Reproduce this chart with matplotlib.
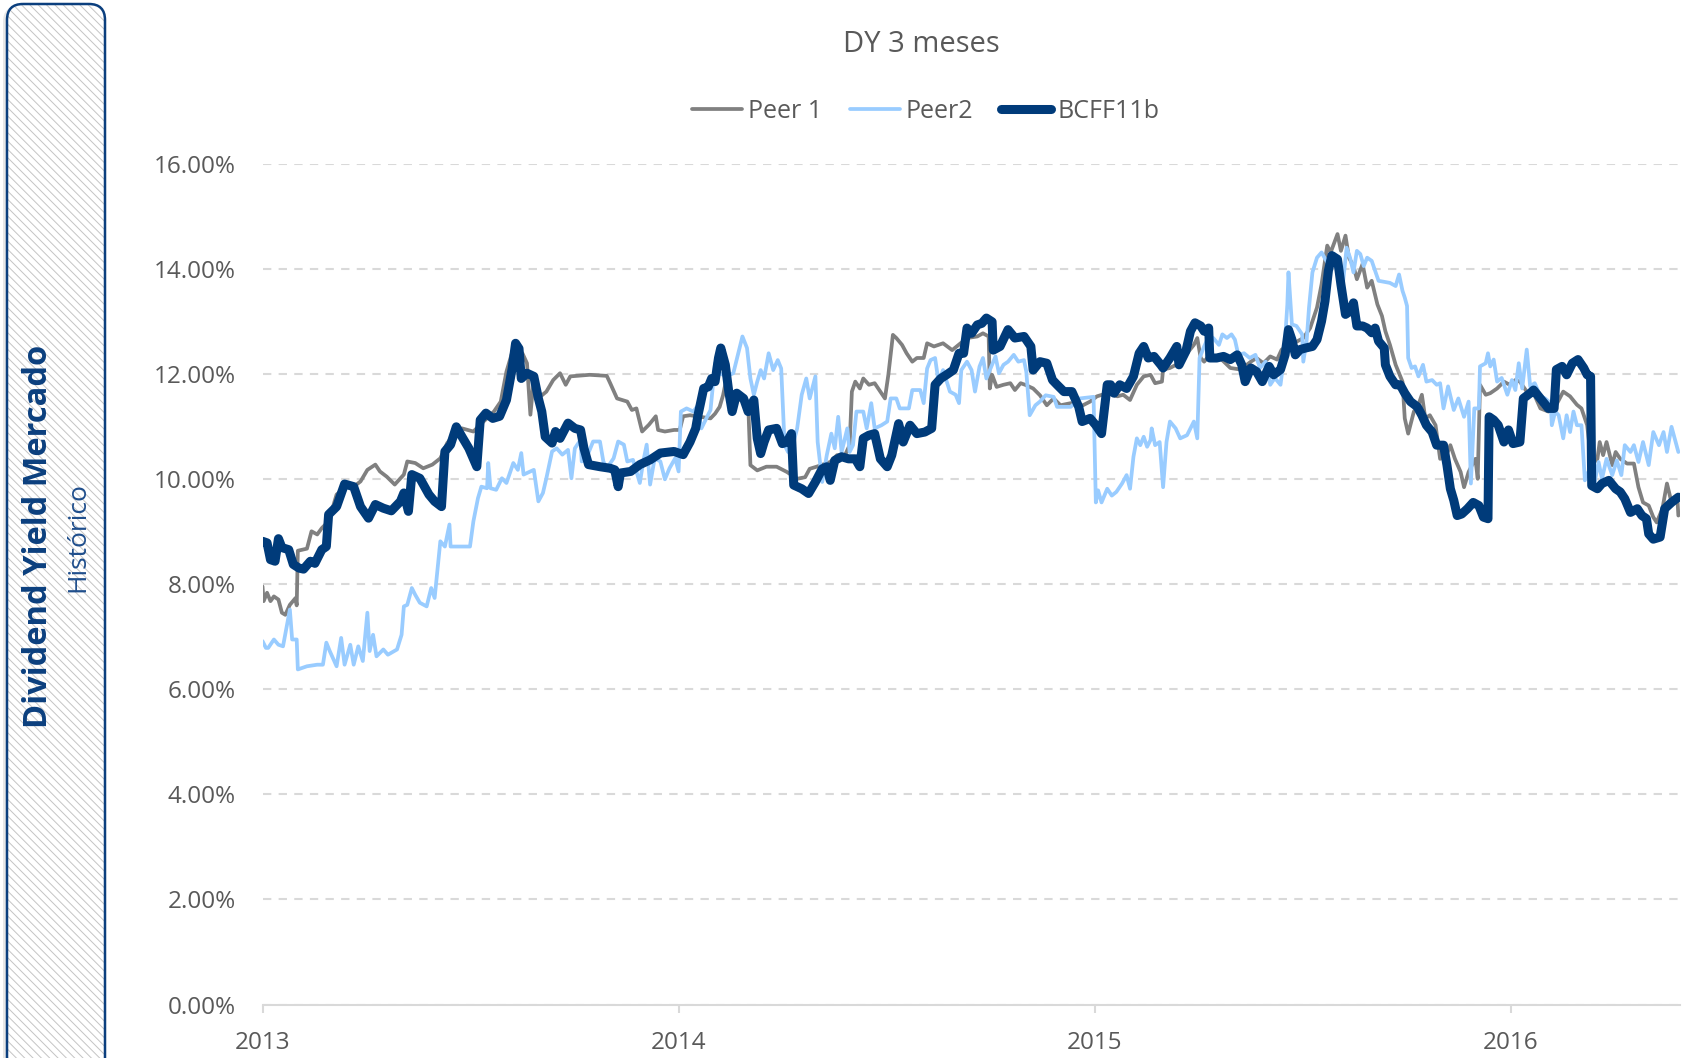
import matplotlib
matplotlib.use("Agg")
import matplotlib.pyplot as plt
from matplotlib.patches import FancyBboxPatch
from matplotlib.ticker import FuncFormatter, FixedLocator
import pandas as pd

# ---------------- data (values in %) ----------------
title = "DY 3 meses"
series_names = ["Peer 1", "Peer2", "BCFF11b"]
year_ticks = ["2013-01-01", "2014-01-01", "2015-01-01", "2016-01-01"]
year_labels = ["2013", "2014", "2015", "2016"]
y_ticks = [0, 2, 4, 6, 8, 10, 12, 14, 16]

peer1 = [
    ("2013-01-01", 7.96), ("2013-01-02", 7.68), ("2013-01-05", 7.84), ("2013-01-08", 7.68),
    ("2013-01-11", 7.77), ("2013-01-15", 7.71), ("2013-01-18", 7.46), ("2013-01-21", 7.42),
    ("2013-01-25", 7.61), ("2013-01-30", 7.74), ("2013-01-31", 7.60), ("2013-02-01", 8.64),
    ("2013-02-09", 8.68), ("2013-02-13", 9.01), ("2013-02-18", 8.95), ("2013-02-22", 9.07),
    ("2013-02-28", 9.20), ("2013-03-07", 9.71), ("2013-03-16", 9.86), ("2013-03-22", 9.86),
    ("2013-03-28", 9.96), ("2013-04-03", 10.18), ("2013-04-10", 10.28), ("2013-04-14", 10.15),
    ("2013-04-20", 10.05), ("2013-04-27", 9.90), ("2013-05-05", 10.09), ("2013-05-08", 10.34),
    ("2013-05-15", 10.31), ("2013-05-22", 10.21), ("2013-05-30", 10.28), ("2013-06-06", 10.40),
    ("2013-06-12", 10.69), ("2013-06-18", 10.85), ("2013-06-25", 10.97), ("2013-07-05", 10.91),
    ("2013-07-11", 11.04), ("2013-07-23", 11.29), ("2013-07-29", 11.48), ("2013-08-03", 12.05),
    ("2013-08-09", 12.49), ("2013-08-17", 12.40), ("2013-08-21", 12.21), ("2013-08-24", 11.23),
    ("2013-08-27", 11.92), ("2013-09-02", 11.58), ("2013-09-07", 11.67), ("2013-09-13", 11.89),
    ("2013-09-19", 12.02), ("2013-09-24", 11.80), ("2013-09-28", 11.96), ("2013-10-15", 11.99),
    ("2013-10-30", 11.97), ("2013-11-02", 11.83), ("2013-11-08", 11.54), ("2013-11-17", 11.48),
    ("2013-11-21", 11.32), ("2013-11-25", 11.35), ("2013-11-30", 10.91), ("2013-12-06", 11.04),
    ("2013-12-12", 11.20), ("2013-12-14", 10.94), ("2013-12-20", 10.91), ("2013-12-28", 10.94),
    ("2014-01-02", 10.94), ("2014-01-05", 11.20), ("2014-01-11", 11.22), ("2014-01-20", 11.19),
    ("2014-01-29", 11.16), ("2014-02-02", 11.25), ("2014-02-06", 11.38), ("2014-02-09", 11.60),
    ("2014-02-12", 11.92), ("2014-02-17", 11.41), ("2014-02-21", 11.54), ("2014-02-27", 11.48),
    ("2014-03-03", 11.48), ("2014-03-05", 10.27), ("2014-03-11", 10.17), ("2014-03-19", 10.24),
    ("2014-03-28", 10.24), ("2014-04-06", 10.14), ("2014-04-15", 10.01), ("2014-04-22", 10.04),
    ("2014-04-26", 10.20), ("2014-05-02", 10.24), ("2014-05-14", 10.33), ("2014-05-20", 10.46),
    ("2014-05-27", 10.46), ("2014-05-31", 10.65), ("2014-06-02", 11.67), ("2014-06-05", 11.86),
    ("2014-06-09", 11.73), ("2014-06-12", 11.92), ("2014-06-17", 11.80), ("2014-06-22", 11.83),
    ("2014-06-27", 11.67), ("2014-07-01", 11.54), ("2014-07-04", 11.99), ("2014-07-08", 12.75),
    ("2014-07-11", 12.69), ("2014-07-16", 12.56), ("2014-07-20", 12.40), ("2014-07-25", 12.24),
    ("2014-07-29", 12.31), ("2014-08-04", 12.31), ("2014-08-07", 12.59), ("2014-08-13", 12.53),
    ("2014-08-21", 12.59), ("2014-08-29", 12.46), ("2014-09-02", 12.53), ("2014-09-11", 12.69),
    ("2014-09-20", 12.72), ("2014-09-25", 12.78), ("2014-09-30", 12.72), ("2014-10-01", 11.73),
    ("2014-10-03", 11.99), ("2014-10-07", 11.76), ("2014-10-13", 11.80), ("2014-10-19", 11.83),
    ("2014-10-23", 11.70), ("2014-10-28", 11.83), ("2014-11-01", 11.80), ("2014-11-08", 11.73),
    ("2014-11-14", 11.60), ("2014-11-20", 11.41), ("2014-11-26", 11.54), ("2014-12-02", 11.41),
    ("2014-12-11", 11.45), ("2014-12-19", 11.38), ("2014-12-28", 11.48), ("2015-01-03", 11.58),
    ("2015-01-12", 11.64), ("2015-01-21", 11.58), ("2015-01-26", 11.61), ("2015-02-01", 11.51),
    ("2015-02-07", 11.80), ("2015-02-13", 11.96), ("2015-02-19", 11.99), ("2015-02-23", 11.83),
    ("2015-03-01", 11.86), ("2015-03-02", 12.09), ("2015-03-08", 12.12), ("2015-03-16", 12.21),
    ("2015-03-23", 12.40), ("2015-03-29", 12.56), ("2015-04-01", 12.69), ("2015-04-04", 12.31),
    ("2015-04-07", 12.24), ("2015-04-12", 12.37), ("2015-04-21", 12.31), ("2015-04-30", 12.12),
    ("2015-05-09", 12.09), ("2015-05-18", 12.24), ("2015-05-23", 12.31), ("2015-05-29", 12.21),
    ("2015-06-04", 12.34), ("2015-06-10", 12.28), ("2015-06-14", 12.47), ("2015-06-22", 12.56),
    ("2015-06-28", 12.63), ("2015-07-03", 12.69), ("2015-07-09", 12.88), ("2015-07-15", 13.27),
    ("2015-07-19", 13.71), ("2015-07-24", 14.45), ("2015-07-27", 14.32), ("2015-08-02", 14.67),
    ("2015-08-05", 14.35), ("2015-08-09", 14.64), ("2015-08-12", 14.22), ("2015-08-16", 14.06),
    ("2015-08-19", 13.81), ("2015-08-24", 14.10), ("2015-08-28", 13.65), ("2015-09-01", 13.78),
    ("2015-09-06", 13.33), ("2015-09-10", 13.11), ("2015-09-13", 12.82), ("2015-09-17", 12.56),
    ("2015-09-22", 12.18), ("2015-09-28", 11.86), ("2015-09-30", 11.16), ("2015-10-03", 10.87),
    ("2015-10-08", 11.29), ("2015-10-12", 11.42), ("2015-10-15", 11.61), ("2015-10-18", 11.16),
    ("2015-10-22", 11.22), ("2015-10-27", 11.03), ("2015-10-31", 10.39), ("2015-11-05", 10.43),
    ("2015-11-09", 10.65), ("2015-11-13", 10.39), ("2015-11-18", 10.14), ("2015-11-21", 9.85),
    ("2015-11-25", 10.14), ("2015-11-28", 10.27), ("2015-12-01", 10.39), ("2015-12-03", 10.01),
    ("2015-12-05", 11.80), ("2015-12-10", 11.61), ("2015-12-14", 11.64), ("2015-12-20", 11.73),
    ("2015-12-26", 11.86), ("2015-12-31", 11.80), ("2016-01-05", 11.89), ("2016-01-09", 11.86),
    ("2016-01-15", 11.67), ("2016-01-21", 11.64), ("2016-01-27", 11.35), ("2016-02-03", 11.29),
    ("2016-02-10", 11.42), ("2016-02-16", 11.67), ("2016-02-22", 11.58), ("2016-02-28", 11.42),
    ("2016-03-03", 11.35), ("2016-03-08", 11.03), ("2016-03-12", 10.27), ("2016-03-17", 10.39),
    ("2016-03-19", 10.71), ("2016-03-22", 10.46), ("2016-03-25", 10.71), ("2016-03-30", 10.27),
    ("2016-04-02", 10.52), ("2016-04-06", 10.39), ("2016-04-12", 10.30), ("2016-04-18", 10.30),
    ("2016-04-22", 9.85), ("2016-04-26", 9.56), ("2016-05-01", 9.50), ("2016-05-05", 9.28),
    ("2016-05-08", 9.18), ("2016-05-13", 9.44), ("2016-05-17", 9.92), ("2016-05-21", 9.56),
    ("2016-05-26", 9.69), ("2016-05-27", 9.31),
]

peer2 = [
    ("2013-01-01", 6.92), ("2013-01-04", 6.79), ("2013-01-06", 6.79), ("2013-01-11", 6.95),
    ("2013-01-15", 6.85), ("2013-01-19", 6.82), ("2013-01-22", 7.17), ("2013-01-25", 7.52),
    ("2013-01-27", 6.95), ("2013-01-31", 6.95), ("2013-02-01", 6.38), ("2013-02-09", 6.44),
    ("2013-02-18", 6.47), ("2013-02-23", 6.47), ("2013-02-26", 6.89), ("2013-03-01", 6.73),
    ("2013-03-07", 6.44), ("2013-03-11", 6.98), ("2013-03-14", 6.47), ("2013-03-19", 6.85),
    ("2013-03-22", 6.47), ("2013-03-26", 6.82), ("2013-03-30", 6.54), ("2013-04-03", 7.46),
    ("2013-04-05", 6.73), ("2013-04-08", 7.04), ("2013-04-11", 6.63), ("2013-04-17", 6.76),
    ("2013-04-21", 6.66), ("2013-04-29", 6.76), ("2013-05-03", 7.04), ("2013-05-05", 7.58),
    ("2013-05-08", 7.61), ("2013-05-12", 7.93), ("2013-05-15", 7.80), ("2013-05-19", 7.65),
    ("2013-05-25", 7.58), ("2013-05-29", 7.93), ("2013-06-01", 7.74), ("2013-06-06", 8.82),
    ("2013-06-10", 8.72), ("2013-06-14", 9.14), ("2013-06-15", 8.72), ("2013-07-02", 8.72),
    ("2013-07-05", 9.20), ("2013-07-09", 9.64), ("2013-07-12", 9.86), ("2013-07-17", 9.83),
    ("2013-07-18", 10.31), ("2013-07-20", 9.83), ("2013-07-25", 9.80), ("2013-07-30", 10.02),
    ("2013-08-03", 9.93), ("2013-08-09", 10.31), ("2013-08-13", 10.18), ("2013-08-16", 10.50),
    ("2013-08-18", 10.09), ("2013-08-27", 10.18), ("2013-08-31", 9.58), ("2013-09-04", 9.74),
    ("2013-09-07", 10.02), ("2013-09-12", 10.53), ("2013-09-16", 10.59), ("2013-09-21", 10.47),
    ("2013-09-26", 10.56), ("2013-09-29", 10.02), ("2013-10-02", 10.59), ("2013-10-07", 10.75),
    ("2013-10-08", 10.34), ("2013-10-12", 10.40), ("2013-10-18", 10.72), ("2013-10-24", 10.72),
    ("2013-10-27", 10.34), ("2013-10-30", 10.21), ("2013-11-05", 10.40), ("2013-11-09", 10.72),
    ("2013-11-14", 10.66), ("2013-11-17", 10.34), ("2013-11-22", 10.37), ("2013-11-28", 9.93),
    ("2013-12-01", 10.34), ("2013-12-04", 10.66), ("2013-12-07", 9.90), ("2013-12-11", 10.40),
    ("2013-12-16", 10.34), ("2013-12-20", 10.00), ("2013-12-24", 10.21), ("2013-12-29", 10.40),
    ("2014-01-01", 10.15), ("2014-01-03", 11.29), ("2014-01-08", 11.35), ("2014-01-14", 11.29),
    ("2014-01-17", 11.38), ("2014-01-21", 10.97), ("2014-01-29", 11.32), ("2014-02-02", 12.21),
    ("2014-02-06", 12.02), ("2014-02-12", 11.96), ("2014-02-18", 12.02), ("2014-02-22", 12.37),
    ("2014-02-26", 12.72), ("2014-03-02", 12.50), ("2014-03-05", 11.92), ("2014-03-08", 11.61),
    ("2014-03-11", 11.86), ("2014-03-14", 12.08), ("2014-03-17", 11.92), ("2014-03-21", 12.40),
    ("2014-03-25", 12.08), ("2014-03-29", 12.27), ("2014-04-01", 12.11), ("2014-04-04", 10.65),
    ("2014-04-07", 10.52), ("2014-04-10", 10.55), ("2014-04-15", 10.97), ("2014-04-19", 11.61),
    ("2014-04-23", 11.92), ("2014-04-26", 11.54), ("2014-05-01", 11.96), ("2014-05-03", 10.71),
    ("2014-05-07", 9.95), ("2014-05-11", 10.46), ("2014-05-15", 10.87), ("2014-05-18", 10.59),
    ("2014-05-21", 11.19), ("2014-05-24", 10.52), ("2014-05-29", 10.97), ("2014-05-31", 10.52),
    ("2014-06-03", 10.65), ("2014-06-06", 11.29), ("2014-06-12", 11.29), ("2014-06-15", 10.97),
    ("2014-06-19", 11.45), ("2014-06-22", 10.97), ("2014-06-28", 11.03), ("2014-07-03", 11.10),
    ("2014-07-06", 11.54), ("2014-07-11", 11.54), ("2014-07-14", 11.35), ("2014-07-22", 11.35),
    ("2014-07-25", 11.70), ("2014-08-01", 11.70), ("2014-08-04", 11.45), ("2014-08-07", 12.11),
    ("2014-08-10", 12.27), ("2014-08-14", 12.31), ("2014-08-17", 11.86), ("2014-08-21", 12.08),
    ("2014-08-27", 11.67), ("2014-09-01", 11.61), ("2014-09-04", 11.45), ("2014-09-06", 12.08),
    ("2014-09-11", 12.24), ("2014-09-15", 12.08), ("2014-09-18", 11.67), ("2014-09-22", 12.15),
    ("2014-09-25", 12.31), ("2014-09-28", 11.92), ("2014-10-03", 12.18), ("2014-10-06", 12.34),
    ("2014-10-09", 12.02), ("2014-10-13", 12.18), ("2014-10-17", 12.24), ("2014-10-22", 12.37),
    ("2014-10-26", 12.24), ("2014-10-31", 12.27), ("2014-11-02", 12.05), ("2014-11-05", 11.22),
    ("2014-11-10", 11.41), ("2014-11-14", 11.48), ("2014-11-19", 11.60), ("2014-11-26", 11.57),
    ("2014-11-29", 11.38), ("2014-12-11", 11.38), ("2014-12-19", 11.54), ("2014-12-31", 11.57),
    ("2015-01-02", 9.56), ("2015-01-04", 9.79), ("2015-01-07", 9.56), ("2015-01-12", 9.82),
    ("2015-01-16", 9.69), ("2015-01-20", 9.76), ("2015-01-25", 9.92), ("2015-01-29", 10.08),
    ("2015-02-01", 9.82), ("2015-02-04", 10.43), ("2015-02-07", 10.78), ("2015-02-10", 10.65),
    ("2015-02-13", 10.81), ("2015-02-16", 10.62), ("2015-02-19", 10.75), ("2015-02-20", 10.97),
    ("2015-02-23", 10.65), ("2015-02-27", 10.71), ("2015-03-02", 9.85), ("2015-03-05", 10.71),
    ("2015-03-08", 11.10), ("2015-03-13", 10.97), ("2015-03-17", 10.78), ("2015-03-23", 10.84),
    ("2015-03-29", 11.10), ("2015-04-01", 10.78), ("2015-04-03", 12.31), ("2015-04-07", 12.53),
    ("2015-04-11", 12.72), ("2015-04-15", 12.69), ("2015-04-20", 12.56), ("2015-04-23", 12.76),
    ("2015-04-27", 12.69), ("2015-05-01", 12.76), ("2015-05-04", 12.66), ("2015-05-07", 12.37),
    ("2015-05-12", 12.40), ("2015-05-17", 12.31), ("2015-05-22", 12.37), ("2015-05-26", 12.12),
    ("2015-05-31", 12.24), ("2015-06-04", 11.80), ("2015-06-08", 11.93), ("2015-06-13", 11.80),
    ("2015-06-16", 12.31), ("2015-06-19", 13.33), ("2015-06-20", 13.94), ("2015-06-23", 12.95),
    ("2015-06-27", 12.92), ("2015-07-02", 12.76), ("2015-07-03", 12.24), ("2015-07-06", 12.66),
    ("2015-07-08", 13.27), ("2015-07-11", 13.94), ("2015-07-15", 14.22), ("2015-07-19", 14.32),
    ("2015-07-24", 14.13), ("2015-07-30", 14.29), ("2015-08-03", 14.16), ("2015-08-07", 13.78),
    ("2015-08-10", 14.41), ("2015-08-13", 14.22), ("2015-08-16", 13.94), ("2015-08-19", 14.35),
    ("2015-08-22", 14.29), ("2015-08-25", 14.06), ("2015-08-28", 14.22), ("2015-09-01", 14.16),
    ("2015-09-04", 13.97), ("2015-09-07", 13.78), ("2015-09-17", 13.74), ("2015-09-22", 13.68),
    ("2015-09-25", 13.90), ("2015-09-28", 13.59), ("2015-09-30", 13.46), ("2015-10-02", 13.30),
    ("2015-10-03", 12.31), ("2015-10-06", 12.12), ("2015-10-09", 12.15), ("2015-10-12", 11.96),
    ("2015-10-16", 12.18), ("2015-10-19", 11.86), ("2015-10-24", 11.89), ("2015-10-28", 11.80),
    ("2015-10-31", 11.83), ("2015-11-03", 11.35), ("2015-11-07", 11.77), ("2015-11-12", 11.32),
    ("2015-11-16", 11.54), ("2015-11-21", 11.19), ("2015-11-25", 11.48), ("2015-11-27", 9.92),
    ("2015-11-30", 11.35), ("2015-12-04", 11.35), ("2015-12-05", 12.15), ("2015-12-10", 12.21),
    ("2015-12-12", 12.40), ("2015-12-14", 12.15), ("2015-12-17", 12.28), ("2015-12-20", 11.86),
    ("2015-12-24", 11.93), ("2015-12-29", 11.61), ("2016-01-02", 11.89), ("2016-01-05", 11.70),
    ("2016-01-08", 12.21), ("2016-01-11", 11.73), ("2016-01-15", 12.47), ("2016-01-18", 11.77),
    ("2016-01-22", 11.83), ("2016-01-27", 11.58), ("2016-01-31", 11.54), ("2016-02-05", 11.45),
    ("2016-02-06", 11.03), ("2016-02-09", 11.29), ("2016-02-12", 11.22), ("2016-02-16", 10.78),
    ("2016-02-19", 11.22), ("2016-02-22", 10.90), ("2016-02-25", 11.29), ("2016-02-28", 11.03),
    ("2016-03-03", 11.03), ("2016-03-06", 9.98), ("2016-03-09", 10.14), ("2016-03-14", 9.88),
    ("2016-03-18", 10.33), ("2016-03-21", 10.01), ("2016-03-25", 10.39), ("2016-03-30", 10.08),
    ("2016-04-03", 10.36), ("2016-04-07", 10.08), ("2016-04-10", 10.65), ("2016-04-15", 10.52),
    ("2016-04-18", 10.65), ("2016-04-22", 10.33), ("2016-04-26", 10.71), ("2016-05-01", 10.27),
    ("2016-05-05", 10.90), ("2016-05-10", 10.65), ("2016-05-14", 10.90), ("2016-05-17", 10.52),
    ("2016-05-21", 11.00), ("2016-05-27", 10.52),
]

bcff = [
    ("2013-01-01", 8.82), ("2013-01-05", 8.79), ("2013-01-08", 8.47), ("2013-01-12", 8.44),
    ("2013-01-15", 8.87), ("2013-01-18", 8.70), ("2013-01-24", 8.66), ("2013-01-28", 8.38),
    ("2013-02-02", 8.31), ("2013-02-06", 8.29), ("2013-02-12", 8.44), ("2013-02-16", 8.40),
    ("2013-02-22", 8.66), ("2013-02-26", 8.72), ("2013-02-28", 9.33), ("2013-03-07", 9.48),
    ("2013-03-14", 9.91), ("2013-03-22", 9.86), ("2013-03-28", 9.48), ("2013-04-04", 9.26),
    ("2013-04-10", 9.52), ("2013-04-17", 9.45), ("2013-04-24", 9.40), ("2013-05-02", 9.58),
    ("2013-05-05", 9.74), ("2013-05-09", 9.39), ("2013-05-12", 10.09), ("2013-05-19", 10.02),
    ("2013-05-27", 9.71), ("2013-06-01", 9.58), ("2013-06-07", 9.48), ("2013-06-10", 10.53),
    ("2013-06-15", 10.66), ("2013-06-20", 11.00), ("2013-06-25", 10.81), ("2013-07-01", 10.59),
    ("2013-07-08", 10.24), ("2013-07-11", 11.13), ("2013-07-16", 11.26), ("2013-07-22", 11.16),
    ("2013-07-28", 11.20), ("2013-08-03", 11.51), ("2013-08-08", 12.11), ("2013-08-11", 12.59),
    ("2013-08-14", 12.49), ("2013-08-16", 11.92), ("2013-08-21", 12.02), ("2013-08-27", 11.96),
    ("2013-08-31", 11.54), ("2013-09-03", 11.29), ("2013-09-06", 10.81), ("2013-09-12", 10.69),
    ("2013-09-15", 10.91), ("2013-09-19", 10.78), ("2013-09-26", 11.07), ("2013-10-02", 10.97),
    ("2013-10-07", 10.94), ("2013-10-10", 10.59), ("2013-10-14", 10.28), ("2013-10-24", 10.24),
    ("2013-11-02", 10.21), ("2013-11-06", 10.18), ("2013-11-09", 9.86), ("2013-11-11", 10.12),
    ("2013-11-20", 10.15), ("2013-11-28", 10.28), ("2013-12-07", 10.37), ("2013-12-16", 10.50),
    ("2013-12-28", 10.53), ("2014-01-05", 10.47), ("2014-01-11", 10.71), ("2014-01-16", 10.97),
    ("2014-01-18", 11.22), ("2014-01-23", 11.73), ("2014-01-27", 11.76), ("2014-01-30", 11.92),
    ("2014-02-02", 11.86), ("2014-02-05", 12.31), ("2014-02-07", 12.50), ("2014-02-11", 12.18),
    ("2014-02-14", 11.67), ("2014-02-17", 11.29), ("2014-02-21", 11.64), ("2014-02-27", 11.54),
    ("2014-03-03", 11.29), ("2014-03-08", 11.51), ("2014-03-11", 10.78), ("2014-03-14", 10.49),
    ("2014-03-17", 10.71), ("2014-03-21", 10.94), ("2014-03-28", 10.97), ("2014-04-02", 10.68),
    ("2014-04-06", 10.71), ("2014-04-10", 10.87), ("2014-04-12", 9.89), ("2014-04-19", 9.82),
    ("2014-04-25", 9.73), ("2014-05-01", 9.95), ("2014-05-07", 10.20), ("2014-05-11", 10.24),
    ("2014-05-14", 9.98), ("2014-05-18", 10.36), ("2014-05-24", 10.43), ("2014-05-30", 10.39),
    ("2014-06-05", 10.39), ("2014-06-09", 10.24), ("2014-06-12", 10.78), ("2014-06-17", 10.84),
    ("2014-06-22", 10.87), ("2014-06-27", 10.39), ("2014-07-03", 10.24), ("2014-07-07", 10.46),
    ("2014-07-13", 11.06), ("2014-07-17", 10.71), ("2014-07-23", 11.03), ("2014-07-29", 10.87),
    ("2014-08-05", 10.90), ("2014-08-11", 10.97), ("2014-08-14", 11.80), ("2014-08-19", 11.92),
    ("2014-08-24", 11.99), ("2014-08-30", 12.08), ("2014-09-04", 12.40), ("2014-09-08", 12.40),
    ("2014-09-11", 12.88), ("2014-09-15", 12.78), ("2014-09-20", 12.94), ("2014-09-24", 12.97),
    ("2014-09-28", 13.07), ("2014-10-03", 13.00), ("2014-10-04", 12.46), ("2014-10-10", 12.53),
    ("2014-10-17", 12.85), ("2014-10-23", 12.69), ("2014-10-31", 12.72), ("2014-11-06", 12.53),
    ("2014-11-08", 12.08), ("2014-11-14", 12.24), ("2014-11-20", 12.21), ("2014-11-25", 11.89),
    ("2014-11-29", 11.80), ("2014-12-05", 11.67), ("2014-12-12", 11.67), ("2014-12-18", 11.38),
    ("2014-12-21", 11.10), ("2014-12-28", 11.16), ("2015-01-02", 11.03), ("2015-01-07", 10.87),
    ("2015-01-12", 11.80), ("2015-01-15", 11.80), ("2015-01-18", 11.64), ("2015-01-23", 11.80),
    ("2015-01-29", 11.73), ("2015-02-04", 11.96), ("2015-02-09", 12.40), ("2015-02-13", 12.53),
    ("2015-02-17", 12.31), ("2015-02-22", 12.34), ("2015-02-28", 12.18), ("2015-03-02", 12.12),
    ("2015-03-08", 12.31), ("2015-03-14", 12.53), ("2015-03-16", 12.18), ("2015-03-22", 12.44),
    ("2015-03-26", 12.82), ("2015-03-30", 12.98), ("2015-04-04", 12.92), ("2015-04-07", 12.82),
    ("2015-04-11", 12.88), ("2015-04-12", 12.31), ("2015-04-18", 12.31), ("2015-04-24", 12.34),
    ("2015-04-30", 12.28), ("2015-05-06", 12.37), ("2015-05-10", 12.18), ("2015-05-13", 11.86),
    ("2015-05-18", 12.12), ("2015-05-23", 12.05), ("2015-05-28", 11.86), ("2015-06-03", 12.15),
    ("2015-06-07", 11.99), ("2015-06-13", 12.09), ("2015-06-17", 12.37), ("2015-06-20", 12.85),
    ("2015-06-23", 12.66), ("2015-06-26", 12.37), ("2015-06-30", 12.47), ("2015-07-05", 12.50),
    ("2015-07-11", 12.53), ("2015-07-15", 12.66), ("2015-07-19", 13.01), ("2015-07-22", 13.39),
    ("2015-07-25", 13.97), ("2015-07-28", 14.26), ("2015-08-02", 14.19), ("2015-08-05", 13.71),
    ("2015-08-09", 13.14), ("2015-08-13", 13.20), ("2015-08-16", 13.36), ("2015-08-19", 12.92),
    ("2015-08-24", 12.92), ("2015-08-28", 12.88), ("2015-09-01", 12.79), ("2015-09-04", 12.88),
    ("2015-09-07", 12.63), ("2015-09-12", 12.50), ("2015-09-13", 12.18), ("2015-09-17", 11.96),
    ("2015-09-22", 11.80), ("2015-09-26", 11.80), ("2015-09-30", 11.64), ("2015-10-05", 11.48),
    ("2015-10-11", 11.38), ("2015-10-15", 11.22), ("2015-10-19", 11.03), ("2015-10-24", 10.90),
    ("2015-10-28", 10.65), ("2015-11-03", 10.65), ("2015-11-06", 10.27), ("2015-11-09", 9.82),
    ("2015-11-12", 9.60), ("2015-11-15", 9.31), ("2015-11-19", 9.34), ("2015-11-24", 9.44),
    ("2015-11-29", 9.56), ("2015-12-04", 9.50), ("2015-12-08", 9.28), ("2015-12-12", 9.25),
    ("2015-12-13", 11.19), ("2015-12-17", 11.13), ("2015-12-21", 11.03), ("2015-12-26", 10.71),
    ("2015-12-30", 10.94), ("2016-01-03", 10.68), ("2016-01-09", 10.71), ("2016-01-12", 11.54),
    ("2016-01-18", 11.64), ("2016-01-21", 11.70), ("2016-01-27", 11.54), ("2016-02-03", 11.35),
    ("2016-02-08", 11.35), ("2016-02-10", 12.09), ("2016-02-15", 12.15), ("2016-02-19", 11.99),
    ("2016-02-24", 12.21), ("2016-02-29", 12.28), ("2016-03-05", 12.12), ("2016-03-08", 11.99),
    ("2016-03-11", 11.96), ("2016-03-12", 9.88), ("2016-03-17", 9.82), ("2016-03-21", 9.92),
    ("2016-03-27", 9.98), ("2016-04-02", 9.82), ("2016-04-06", 9.76), ("2016-04-10", 9.63),
    ("2016-04-15", 9.37), ("2016-04-21", 9.44), ("2016-04-25", 9.31), ("2016-04-29", 9.25),
    ("2016-05-01", 8.96), ("2016-05-05", 8.86), ("2016-05-11", 8.90), ("2016-05-15", 9.44),
    ("2016-05-21", 9.56), ("2016-05-27", 9.66),
]

peer1_dates = pd.to_datetime([d for d, _ in peer1])
peer1_values = [v for _, v in peer1]
peer2_dates = pd.to_datetime([d for d, _ in peer2])
peer2_values = [v for _, v in peer2]
bcff_dates = pd.to_datetime([d for d, _ in bcff])
bcff_values = [v for _, v in bcff]

# ---------------- styling ----------------
plt.rcParams["font.family"] = ["Open Sans", "DejaVu Sans"]
plt.rcParams["hatch.linewidth"] = 0.7

W, H = 1694, 1058
TXT = "#595959"
GRID = "#D9D9D9"
NAVY = "#0B3F7E"
C_PEER1 = "#808080"
C_PEER2 = "#99CCFF"
C_BCFF = "#003B7A"

fig = plt.figure(figsize=(W / 100, H / 100), dpi=100)
fig.patch.set_facecolor("white")

# left decorative panel (pixel coordinates)
bg = fig.add_axes([0, 0, 1, 1], zorder=0)
bg.set_xlim(0, W)
bg.set_ylim(H, 0)
bg.axis("off")
bg.add_patch(FancyBboxPatch((3, 6), 100, 1200, boxstyle="round,pad=0,rounding_size=16",
                            fc="#D0D0D0", ec="none", alpha=0.5))
bg.add_patch(FancyBboxPatch((7, 4), 98, 1200, boxstyle="round,pad=0,rounding_size=16",
                            fc="white", ec="#C4C4C4", lw=0, hatch="\\\\\\\\"))
bg.add_patch(FancyBboxPatch((7, 4), 98, 1200, boxstyle="round,pad=0,rounding_size=16",
                            fc="none", ec=NAVY, lw=1.8))
bg.text(38.5, 536.5, "Dividend Yield Mercado", rotation=90, ha="center", va="center",
        fontsize=23.5, fontweight="bold", color=NAVY)
bg.text(78, 537, "Histórico", rotation=90, ha="center", va="center",
        fontsize=19, color="#1F4E8C")

# main axes
x0, x1 = 262.5, 1679.5
ytop, ybot = 164.2, 1004.5
ax = fig.add_axes([x0 / W, 1 - ybot / H, (x1 - x0) / W, (ybot - ytop) / H], zorder=1)
ax.set_facecolor("none")

l1, = ax.plot(peer1_dates, peer1_values, color=C_PEER1, lw=2.7, solid_joinstyle="round",
              solid_capstyle="round", label=series_names[0])
l2, = ax.plot(peer2_dates, peer2_values, color=C_PEER2, lw=2.7, solid_joinstyle="round",
              solid_capstyle="round", label=series_names[1])
l3, = ax.plot(bcff_dates, bcff_values, color=C_BCFF, lw=6.5, solid_joinstyle="round",
              solid_capstyle="round", label=series_names[2])

ax.set_xlim(pd.Timestamp("2013-01-01"), pd.Timestamp("2016-05-28"))
ax.set_ylim(0, 16)

ax.yaxis.set_major_locator(FixedLocator(y_ticks))
ax.yaxis.set_major_formatter(FuncFormatter(lambda v, p: f"{v:.2f}%"))
ax.xaxis.set_major_locator(FixedLocator(matplotlib.dates.date2num(pd.to_datetime(year_ticks))))
ax.set_xticklabels(year_labels)

ax.grid(axis="y", color=GRID, lw=1.5, linestyle=(0, (4, 3.5)))
ax.set_axisbelow(True)
for s in ["top", "right", "left"]:
    ax.spines[s].set_visible(False)
ax.spines["bottom"].set_color(GRID)
ax.spines["bottom"].set_linewidth(1.5)

ax.tick_params(axis="y", length=0, pad=19, labelsize=17.5, labelcolor=TXT)
ax.tick_params(axis="x", length=6, width=1.5, color=GRID, pad=13, labelsize=17.5, labelcolor=TXT)

fig.text(921.5 / W, 1 - 44 / H, title, ha="center", va="center", fontsize=21, color=TXT)
fig.legend([l1, l2, l3], series_names, loc="center", bbox_to_anchor=(925.5 / W, 1 - 111 / H),
           ncol=3, frameon=False, fontsize=18, handlelength=2.0, handletextpad=0.25,
           columnspacing=1.1, labelcolor=TXT, borderaxespad=0, borderpad=0)

fig.savefig("out.png", dpi=100)
